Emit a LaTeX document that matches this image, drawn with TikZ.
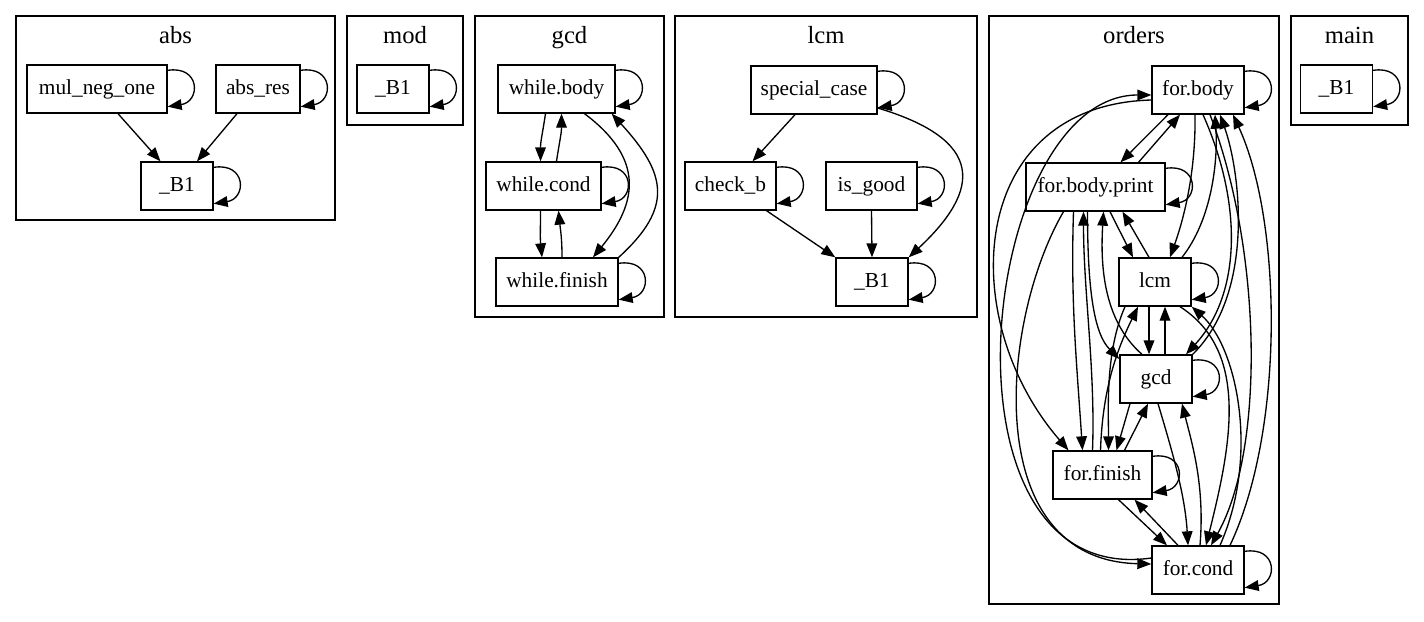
\documentclass[tikz,border=0pt]{standalone}
\usepackage{fontspec}
\setmainfont{Liberation Serif}
\usetikzlibrary{arrows.meta,calc}
\tikzset{
  blk/.style={draw, line width=1pt, minimum height=36pt, inner sep=0pt, text height=11pt, text depth=3.5pt, font=\fontsize{16}{19}\selectfont},
  edge/.style={line width=1pt, -{Triangle[length=10.5pt,width=8pt]}},
  clus/.style={draw, line width=1pt},
  ttl/.style={anchor=base, font=\fontsize{18.5}{22}\selectfont}
}
\begin{document}
\begin{tikzpicture}[x=0.75pt,y=-0.75pt]
\useasboundingbox (0,0) rectangle (1424,621);
\draw[clus] (16,16) rectangle (335,220);
\draw[clus] (347,16) rectangle (463,125);
\draw[clus] (475,16) rectangle (664,317);
\draw[clus] (675,16) rectangle (977,317);
\draw[clus] (989,16) rectangle (1279,604);
\draw[clus] (1291,16) rectangle (1408,125);
\node[ttl] (tAbs) at (175.5,43) {abs};
\node[ttl] (tMod) at (405,43) {mod};
\node[ttl] (tGcd) at (569.5,43) {gcd};
\node[ttl] (tLcm) at (826,43) {lcm};
\node[ttl] (tOrd) at (1134,43) {orders};
\node[ttl] (tMain) at (1349.5,43) {main};
%%%%
\node[blk, minimum width=105pt] (absMul) at (97,89) {mul\_neg\_one};
\node[blk, minimum width=63pt] (absRes) at (258,89) {abs\_res};
\node[blk, minimum width=54pt] (absB) at (177,186) {\_B1};
\node[blk, minimum width=54pt] (modB) at (393,89) {\_B1};
\node[blk, minimum width=87.75pt] (gcdBody) at (556.5,89) {while.body};
\node[blk, minimum width=86.25pt] (gcdCond) at (543.5,186) {while.cond};
\node[blk, minimum width=91.5pt] (gcdFin) at (557,282) {while.finish};
\node[blk, minimum width=94.5pt] (lcmSpec) at (814,90) {special\_case};
\node[blk, minimum width=68.25pt] (lcmChk) at (730.5,186) {check\_b};
\node[blk, minimum width=68.25pt] (lcmGood) at (871.5,186) {is\_good};
\node[blk, minimum width=54pt] (lcmB) at (872,282) {\_B1};
\node[blk, minimum width=69pt] (ordBody) at (1198,90) {for.body};
\node[blk, minimum width=104.25pt] (ordPrint) at (1095.5,187) {for.body.print};
\node[blk, minimum width=54pt] (ordLcm) at (1155,282) {lcm};
\node[blk, minimum width=54pt] (ordGcd) at (1156,379) {gcd};
\node[blk, minimum width=74.25pt] (ordFin) at (1102.5,475) {for.finish};
\node[blk, minimum width=69pt] (ordCond) at (1198,570) {for.cond};
\node[blk, minimum width=54pt] (mainB) at (1336.5,89) {\_B1};
%%%%
\foreach \n in {absMul,absRes,absB,modB,gcdBody,gcdCond,gcdFin,lcmSpec,lcmChk,lcmGood,lcmB,ordBody,ordPrint,ordLcm,ordGcd,ordFin,ordCond,mainB}
  \draw[edge] ($(\n.north east)+(0,6)$) .. controls +(33,-5) and +(33,-5) .. ($(\n.south east)+(0,-7)$);
%%%%
\draw[edge] ($(absMul.south)+(21,0)$) -- ($(absB.north)+(-16.5,0)$);
\draw[edge] ($(absRes.south)+(-21,0)$) -- ($(absB.north)+(20,0)$);
%%%%
\draw[edge] ($(gcdBody.south)+(-11,0)$) .. controls +(-3,20) and +(0,-20) .. ($(gcdCond.north)+(-3,0)$);
\draw[edge] ($(gcdCond.north)+(13,0)$) .. controls +(3,-20) and +(0,20) .. ($(gcdBody.south)+(5,0)$);
\draw[edge] ($(gcdCond.south)+(-3,0)$) .. controls +(0,20) and +(-2,-20) .. ($(gcdFin.north)+(-15,0)$);
\draw[edge] ($(gcdFin.north)+(5,0)$) .. controls +(0,-20) and +(2,20) .. ($(gcdCond.south)+(15,0)$);
\draw[edge] ($(gcdBody.south)+(28,0)$) .. controls +(60,45) and +(45,-55) .. ($(gcdFin.north)+(36,0)$);
\draw[edge] (gcdFin.north east) .. controls +(55,-50) and +(55,60) .. ($(gcdBody.south east)+(-4,0)$);
%%%%
\draw[edge] ($(lcmSpec.south)+(-19,0)$) -- ($(lcmChk.north)+(22,0)$);
\draw[edge] ($(lcmChk.south)+(36,0)$) -- (lcmB.north west);
\draw[edge] (lcmGood.south) -- (lcmB.north);
\draw[edge] ($(lcmSpec.east)+(0,18)$) .. controls +(107,32) and +(73,-68) .. (lcmB.north east);
%%%%
\draw[edge] ($(ordBody.south)+(-30,0)$) -- ($(ordPrint.north)+(25,0)$);
\draw[edge] ($(ordPrint.north)+(43,0)$) -- ($(ordBody.south)+(-18,0)$);
\draw[edge] ($(ordBody.south)+(-3,0)$) .. controls +(1,66) and +(10,-28) .. ($(ordLcm.north)+(15,0)$);
\draw[edge] ($(ordLcm.north)+(27,0)$) .. controls +(30,-38) and +(3,46) .. ($(ordBody.south)+(17,0)$);
\draw[edge] ($(ordBody.south)+(5,0)$) .. controls +(40,90) and +(55,-60) .. ($(ordGcd.north)+(30,0)$);
\draw[edge] (ordGcd.north east) .. controls +(63,-62) and +(20,56) .. ($(ordBody.south)+(22,0)$);
\draw[edge] ($(ordBody.south)+(12,0)$) .. controls +(52,136) and +(54,-96) .. ($(ordCond.north)+(13,0)$);
\draw[edge] ($(ordCond.north)+(32,0)$) .. controls +(55,-116) and +(49,106) .. ($(ordBody.south)+(35,0)$);
\draw[edge] ($(ordBody.west)+(0,10)$) .. controls +(-185,5) and +(-113.5,-131) .. ($(ordFin.north)+(-34,0)$);
\draw[edge] ($(ordCond.west)+(0,-12)$) .. controls +(-225,32) and +(-172,0) .. ($(ordBody.west)+(0,5)$);
\draw[edge] ($(ordPrint.south)+(-32,0)$) .. controls +(-63.5,109) and +(-172,-4) .. ($(ordCond.west)+(0,-6)$);
\draw[edge] ($(ordPrint.south)+(14.5,0)$) -- ($(ordLcm.north)+(-22,0)$);
\draw[edge] ($(ordLcm.north)+(-6,0)$) -- ($(ordPrint.south)+(27,0)$);
\draw[edge] ($(ordPrint.south)+(-8,0)$) .. controls +(0,80) and +(-25,-25) .. ($(ordGcd.west)+(0,-20)$);
\draw[edge] ($(ordGcd.north)+(-14,0)$) .. controls +(-40,-35) and +(-3,50) .. ($(ordPrint.south)+(8,0)$);
\draw[edge] ($(ordPrint.south)+(-22,0)$) .. controls +(-3,90) and +(-6,-90) .. ($(ordFin.north)+(-20,0)$);
\draw[edge] ($(ordFin.north)+(-10,0)$) .. controls +(3,-80) and +(0,80) .. ($(ordPrint.south)+(-12,0)$);
\draw[edge] ($(ordLcm.south)+(-6,0)$) -- ($(ordGcd.north)+(-7,0)$);
\draw[edge] ($(ordGcd.north)+(9,0)$) -- ($(ordLcm.south)+(10,0)$);
\draw[edge] ($(ordLcm.south)+(-30,0)$) .. controls +(-20,45) and +(0,-40) .. ($(ordFin.north)+(6,0)$);
\draw[edge] ($(ordFin.north)+(-2,0)$) .. controls +(2,-60) and +(-22,45) .. ($(ordLcm.south)+(-17,0)$);
\draw[edge] ($(ordLcm.south)+(25,0)$) .. controls +(70,45) and +(25,-100) .. ($(ordCond.north)+(8,0)$);
\draw[edge] ($(ordCond.north)+(22,0)$) .. controls +(40,-90) and +(45,40) .. (ordLcm.south east);
\draw[edge] ($(ordGcd.south)+(-26,0)$) -- ($(ordFin.north)+(14,0)$);
\draw[edge] ($(ordFin.north)+(22,0)$) -- ($(ordGcd.south)+(-8,0)$);
\draw[edge] ($(ordGcd.south)+(2,0)$) .. controls +(15,50) and +(-3,-50) .. ($(ordCond.north)+(-10,0)$);
\draw[edge] ($(ordCond.north)+(2,0)$) .. controls +(5,-60) and +(10,40) .. ($(ordGcd.south)+(26,0)$);
\draw[edge] ($(ordFin.south)+(16,0)$) -- ($(ordCond.north)+(-31,0)$);
\draw[edge] ($(ordCond.north)+(-20,0)$) -- ($(ordFin.south)+(32,0)$);
\end{tikzpicture}
\end{document}
